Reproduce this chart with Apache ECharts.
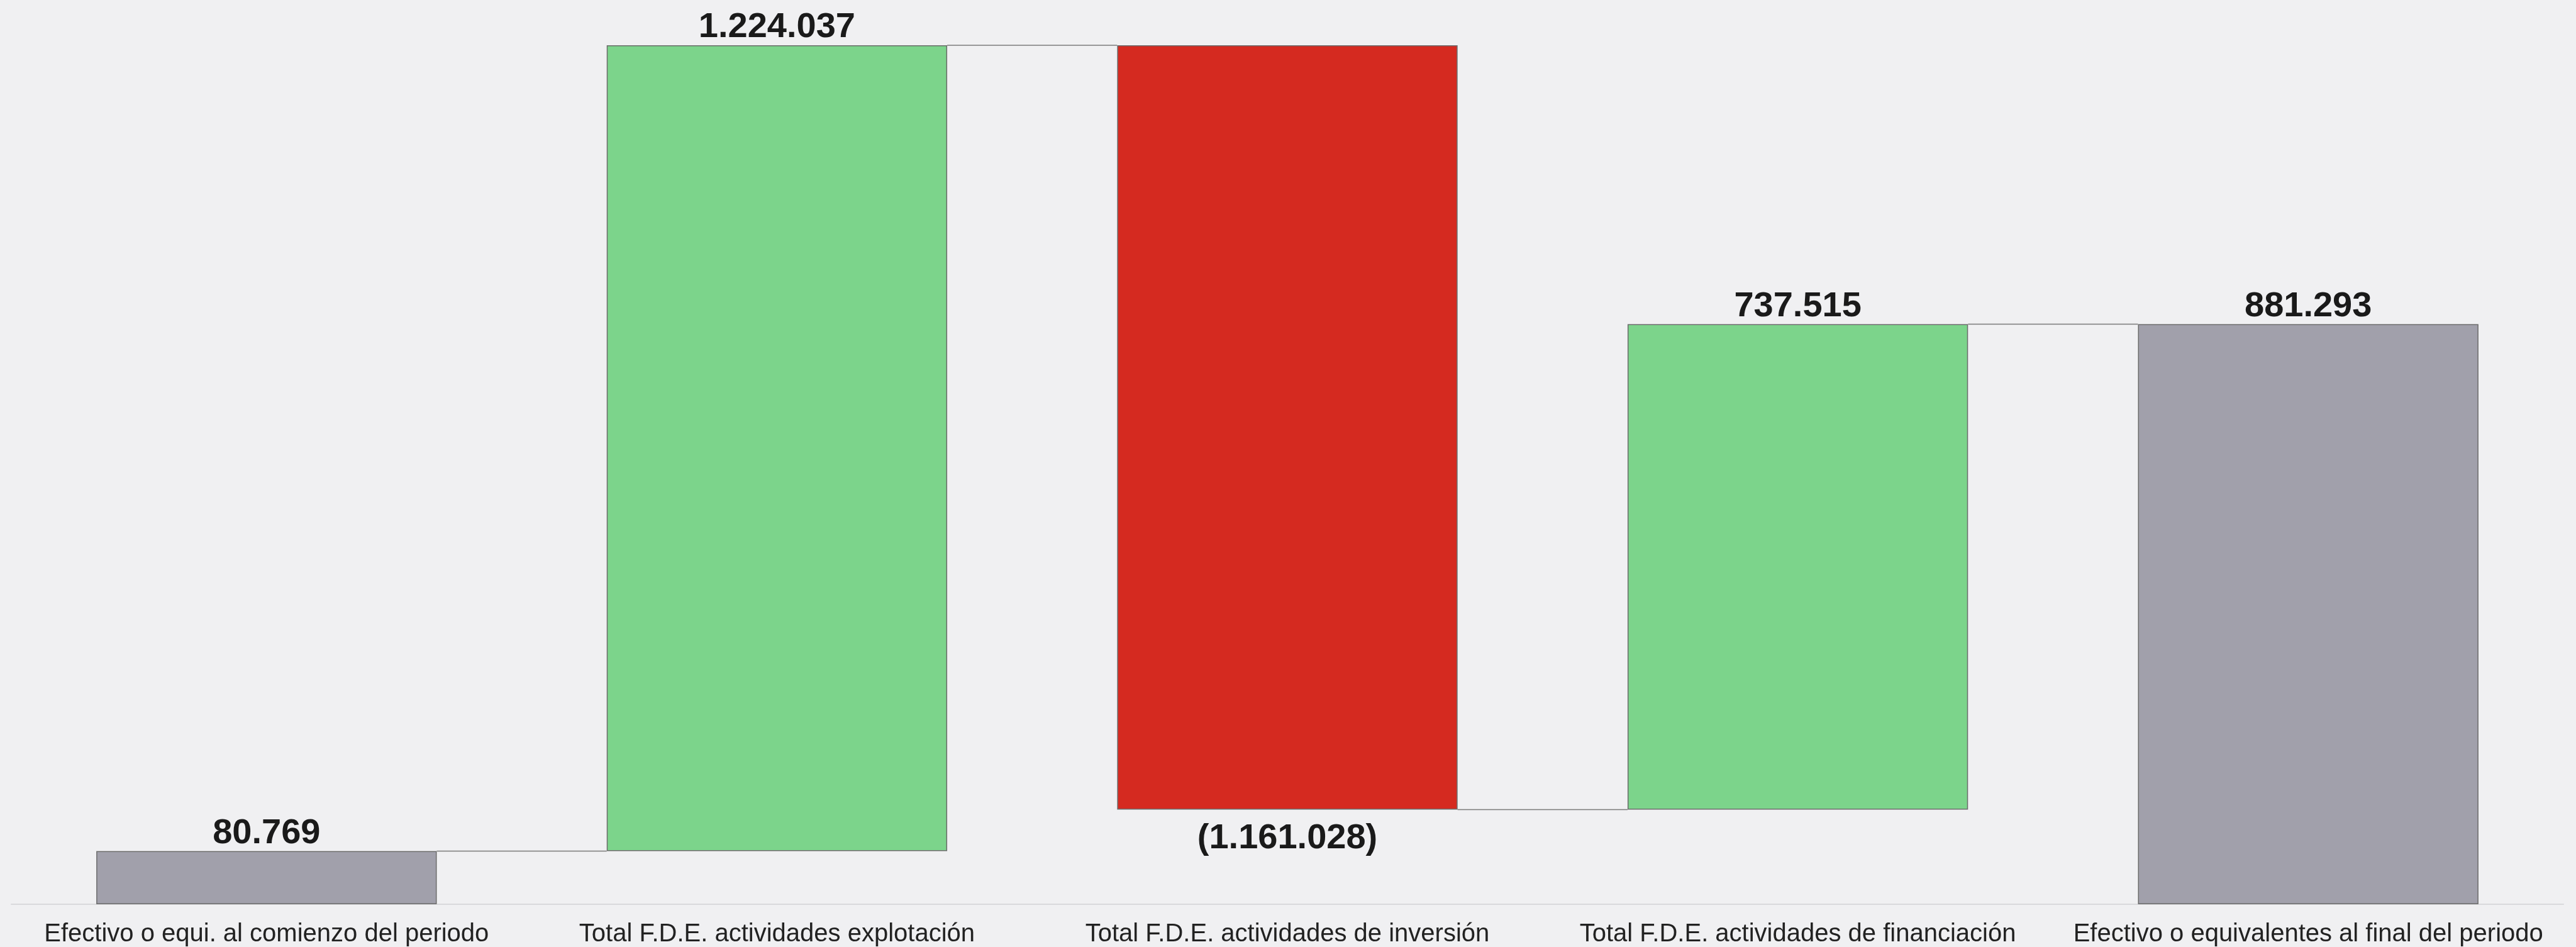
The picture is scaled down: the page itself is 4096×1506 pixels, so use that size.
<!DOCTYPE html>
<html lang="es">
<head>
    <meta charset="UTF-8">
    <title>Flujos de efectivo</title>
    <script src="https://cdn.jsdelivr.net/npm/echarts@6/dist/echarts.min.js"></script>
    <style>
        html, body { margin: 0; padding: 0; background: #f0f0f2; }
        #main { width: 4096px; height: 1506px; }
    </style>
</head>
<body>
<div id="main"></div>
<script>
    // datos del gráfico
    var categorias = [
        'Efectivo o equi. al comienzo del periodo',
        'Total F.D.E. actividades explotación',
        'Total F.D.E. actividades de inversión',
        'Total F.D.E. actividades de financiación',
        'Efectivo o equivalentes al final del periodo'
    ];
    var valores = [80769, 1224037, -1161028, 737515, 881293];
    var esTotal = [true, false, false, false, true];

    var colorTotal = '#a1a0ab';
    var colorSube = '#7cd48b';
    var colorBaja = '#d52a20';

    // base invisible y altura visible de cada barra
    var base = [], altura = [], niveles = [];
    var acum = 0;
    for (var i = 0; i < valores.length; i++) {
        var v = valores[i];
        if (esTotal[i]) {
            base.push(0);
            altura.push(v);
            acum = v;
        } else if (v >= 0) {
            base.push(acum);
            altura.push(v);
            acum += v;
        } else {
            base.push(acum + v);
            altura.push(-v);
            acum += v;
        }
        niveles.push(acum);
    }

    // líneas que unen una barra con la siguiente
    var conectores = [];
    for (var j = 0; j < valores.length - 1; j++) {
        conectores.push([j, niveles[j]]);
    }

    function formato(n) {
        var s = Math.abs(n).toString().replace(/\B(?=(\d{3})+(?!\d))/g, '.');
        return n < 0 ? '(' + s + ')' : s;
    }

    var anchoBarra = 0.667;

    var myChart = echarts.init(document.getElementById('main'));
    var option = {
        backgroundColor: '#f0f0f2',
        animation: false,
        grid: { left: 18, right: 20, top: 72, bottom: 66, containLabel: false },
        xAxis: {
            type: 'category',
            data: categorias,
            axisLine: { lineStyle: { color: '#d9d9dc', width: 2 } },
            axisTick: { show: false },
            axisLabel: {
                color: '#222222',
                fontFamily: 'Liberation Sans',
                fontSize: 40,
                margin: 28,
                interval: 0
            }
        },
        yAxis: {
            type: 'value',
            min: 0,
            max: 'dataMax',
            show: false,
            splitLine: { show: false }
        },
        series: [
            {
                type: 'bar',
                stack: 'cascada',
                data: base,
                barCategoryGap: '33.3%',
                itemStyle: { color: 'transparent', borderWidth: 0 },
                emphasis: { disabled: true },
                silent: true
            },
            {
                type: 'bar',
                stack: 'cascada',
                barCategoryGap: '33.3%',
                data: altura.map(function (h, k) {
                    var color = esTotal[k] ? colorTotal : (valores[k] >= 0 ? colorSube : colorBaja);
                    return {
                        value: h,
                        itemStyle: { color: color },
                        label: { position: valores[k] < 0 ? 'bottom' : 'top', distance: valores[k] < 0 ? 18 : 0 }
                    };
                }),
                itemStyle: { borderColor: '#6b6b6b', borderWidth: 1.5 },
                label: {
                    show: true,
                    color: '#1a1a1a',
                    fontFamily: 'Liberation Sans',
                    fontWeight: 'bold',
                    fontSize: 56,
                    formatter: function (p) { return formato(valores[p.dataIndex]); }
                }
            },
            {
                type: 'custom',
                data: conectores,
                z: 5,
                silent: true,
                renderItem: function (params, api) {
                    var p = api.coord([api.value(0), api.value(1)]);
                    var banda = api.size([1, 0])[0];
                    var medio = banda * anchoBarra / 2;
                    return {
                        type: 'line',
                        shape: { x1: p[0] + medio, y1: p[1], x2: p[0] + banda - medio, y2: p[1] },
                        style: { stroke: '#7a7a7a', lineWidth: 1.5 }
                    };
                }
            }
        ]
    };
    myChart.setOption(option);
</script>
</body>
</html>
